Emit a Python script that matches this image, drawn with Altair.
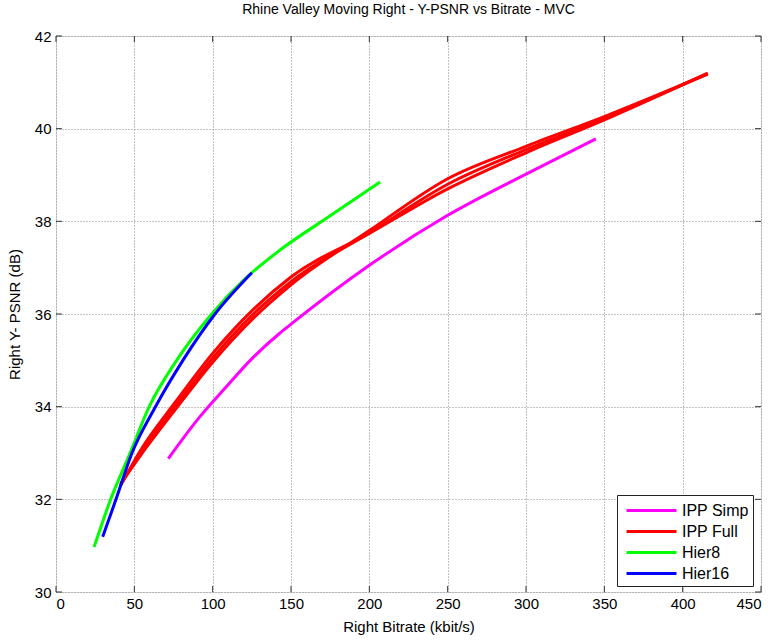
import altair as alt
import pandas as pd

# ---- data ----
simp_x = [71.7, 92, 109, 124, 143, 150, 200, 250, 300, 344.6]
simp_y = [32.88, 33.79, 34.44, 35.0, 35.59, 35.78, 37.05, 38.13, 39.02, 39.78]

full_x = [41.3, 54, 76, 100, 126, 150, 200, 250, 300, 350, 416]
full1_y = [32.32, 33.0, 34.0, 35.05, 36.0, 36.7, 37.75, 38.8, 39.55, 40.22, 41.19]
full2_y = [32.30, 33.06, 34.09, 35.15, 36.1, 36.8, 37.74, 38.7, 39.48, 40.19, 41.2]
full3_y = [32.34, 32.95, 33.93, 34.96, 35.91, 36.63, 37.8, 38.92, 39.62, 40.26, 41.18]

h8_x = [24.3, 34.9, 47.3, 59.5, 77, 99.4, 122, 143, 175, 206.9]
h8_y = [30.97, 32.0, 33.0, 34.0, 35.0, 36.0, 36.8, 37.38, 38.12, 38.85]

h16_x = [29.8, 38.3, 48.5, 63.5, 81, 101.5, 125]
h16_y = [31.19, 32.0, 33.0, 34.0, 35.0, 36.0, 36.89]

series = ["IPP Simp", "IPP Full", "Hier8", "Hier16"]
colors = ["#FF00FF", "#FF0000", "#00FF00", "#0000FF"]

x_ticks = [0, 50, 100, 150, 200, 250, 300, 350, 400, 450]
y_ticks = [30, 32, 34, 36, 38, 40, 42]

rows = []
def add(name, run, xs, ys):
    for i, (a, b) in enumerate(zip(xs, ys)):
        rows.append({"series": name, "run": run, "i": i, "x": a, "y": b})

add("IPP Simp", "s", simp_x, simp_y)
add("IPP Full", "f1", full_x, full1_y)
add("IPP Full", "f2", full_x, full2_y)
add("IPP Full", "f3", full_x, full3_y)
add("Hier8", "h8", h8_x, h8_y)
add("Hier16", "h16", h16_x, h16_y)
df = pd.DataFrame(rows)

W, H = 705, 556
FONT = "Liberation Sans"

xs = alt.Scale(domain=[0, 450], nice=False, zero=False)
ys = alt.Scale(domain=[30, 42], nice=False, zero=False)
cs = alt.Scale(domain=series, range=colors)

x_axis = alt.Axis(values=x_ticks, title="Right Bitrate (kbit/s)", grid=True)
y_axis = alt.Axis(values=y_ticks, title="Right Y- PSNR (dB)", grid=True)

base = alt.Chart(df)

def line_layer(name):
    return base.transform_filter(alt.datum.series == name).mark_line(
        strokeWidth=3, interpolate="monotone", clip=True
    ).encode(
        x=alt.X("x:Q", scale=xs, axis=x_axis),
        y=alt.Y("y:Q", scale=ys, axis=y_axis),
        color=alt.Color("series:N", scale=cs,
                        legend=alt.Legend(title=None, orient="none",
                                          legendX=561, legendY=459)),
        detail="run:N",
        order="i:Q",
    )

# inward ticks (MATLAB style)
xt = pd.DataFrame({"x": x_ticks})
yt = pd.DataFrame({"y": y_ticks})
tick_bottom = alt.Chart(xt).mark_rule(color="#333", strokeWidth=1).encode(
    x=alt.X("x:Q", scale=xs, axis=x_axis), y=alt.value(H), y2=alt.value(H - 6))
tick_top = alt.Chart(xt).mark_rule(color="#333", strokeWidth=1).encode(
    x=alt.X("x:Q", scale=xs, axis=x_axis), y=alt.value(0), y2=alt.value(6))
tick_left = alt.Chart(yt).mark_rule(color="#333", strokeWidth=1).encode(
    y=alt.Y("y:Q", scale=ys, axis=y_axis), x=alt.value(0), x2=alt.value(6))
tick_right = alt.Chart(yt).mark_rule(color="#333", strokeWidth=1).encode(
    y=alt.Y("y:Q", scale=ys, axis=y_axis), x=alt.value(W), x2=alt.value(W - 6))

chart = alt.layer(
    line_layer("IPP Simp"),
    line_layer("IPP Full"),
    line_layer("Hier8"),
    line_layer("Hier16"),
    tick_bottom, tick_top, tick_left, tick_right,
).properties(
    width=W, height=H,
    title=alt.TitleParams("Rhine Valley Moving Right - Y-PSNR vs Bitrate - MVC",
                          fontSize=14, fontWeight="normal", font=FONT,
                          color="black", offset=12, anchor="middle"),
    autosize=alt.AutoSizeParams(type="none"),
    padding={"left": 56, "top": 36, "right": 16, "bottom": 48},
).configure_view(
    stroke="#222", strokeWidth=1, fill="white"
).configure(background="white").configure_axis(
    domain=False, ticks=False,
    grid=True, gridColor="#888", gridDash=[1, 2], gridWidth=1, gridOpacity=1,
    labelFont=FONT, labelFontSize=15, labelColor="black",
    titleFont=FONT, titleFontSize=15, titleFontWeight="normal", titleColor="black",
).configure_axisX(
    labelPadding=4, titlePadding=8,
).configure_axisY(
    labelPadding=5, titlePadding=12,
).configure_legend(
    strokeColor="#222", fillColor="white", padding=4,
    symbolType="M-2.5,0H2.5", symbolSize=400, symbolStrokeWidth=3,
    symbolOffset=19,
    labelFont=FONT, labelFontSize=16, labelColor="black",
    rowPadding=1, labelOffset=19, cornerRadius=0,
)

chart.save("out.html", embed_options={"renderer": "svg", "actions": False})
